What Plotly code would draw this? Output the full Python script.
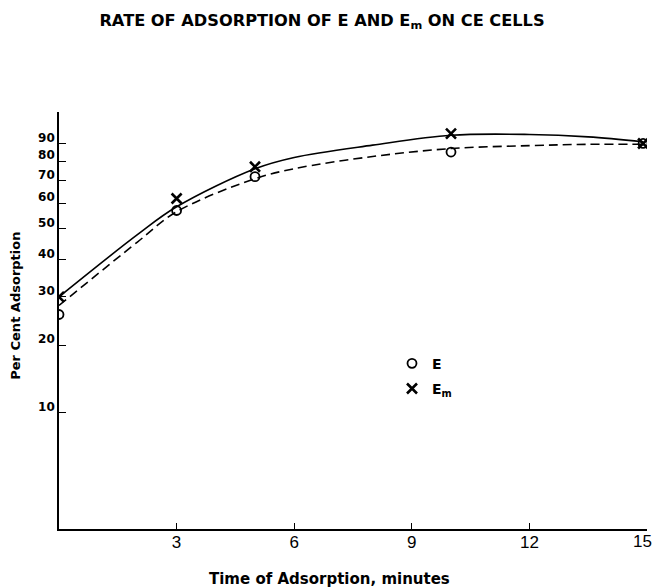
import math
import plotly.graph_objects as go

# ---- data ----
time_E = [0, 3, 5, 10, 14.9]
pct_E = [26, 57, 72, 85, 90]

time_Em = [0, 3, 5, 10, 14.9]
pct_Em = [30, 62, 77, 96, 90]

# hand-drawn fitted curves
curve_time = [0, 2, 3, 5, 6, 8, 10, 12, 13.5, 14.9]
curve_E = [28, 45.5, 56.5, 71, 76, 82.5, 87, 88.7, 89.5, 89.5]
curve_Em = [30, 48, 58.5, 76, 82, 89, 95, 95.5, 94, 91]

y_tick_values = [10, 20, 30, 40, 50, 60, 70, 80, 90]
y_tick_labels = ["10", "20", "30", "40", "50", "60", "70", "80", "90"]
x_tick_values = [3, 6, 9, 12, 15]
x_tick_labels = ["3", "6", "9", "12", "15"]

# the per-cent axis of the original is logarithmic in (per cent + 10)
OFFSET = 10


def shift(vals):
    return [v + OFFSET for v in vals]


BOLD = "DejaVu Sans, Lato, sans-serif"
NARROW = "Liberation Sans Narrow, Liberation Sans, sans-serif"

fig = go.Figure()

fig.add_trace(go.Scatter(
    x=curve_time, y=shift(curve_E), mode="lines", line_shape="spline",
    line=dict(color="black", width=1.6, dash="9px,5px"),
    showlegend=False, hoverinfo="skip"))
fig.add_trace(go.Scatter(
    x=curve_time, y=shift(curve_Em), mode="lines", line_shape="spline",
    line=dict(color="black", width=1.6),
    showlegend=False, hoverinfo="skip"))

fig.add_trace(go.Scatter(
    x=time_E, y=shift(pct_E), mode="markers", name="E", legendgroup="E",
    marker=dict(symbol="circle-open", size=9, color="black",
                line=dict(width=1.8, color="black")),
    customdata=pct_E, hovertemplate="%{x} min: %{customdata}%<extra>E</extra>"))
fig.add_trace(go.Scatter(
    x=time_Em, y=shift(pct_Em), mode="markers", name="E<sub>m</sub>",
    legendgroup="Em",
    marker=dict(symbol="x-thin", size=10, color="black",
                line=dict(width=2.6, color="black")),
    customdata=pct_Em, hovertemplate="%{x} min: %{customdata}%<extra>Em</extra>"))

L = 59
R = 647
T = 112
B = 529.5
W, H = 653, 588
pw, ph = R - L, B - T

fig.update_layout(
    width=W, height=H,
    margin=dict(l=L, r=W - R, t=T, b=H - B, pad=0, autoexpand=False),
    paper_bgcolor="white", plot_bgcolor="white",
    font=dict(family=BOLD, color="black"),
    title=dict(text="<b>RATE OF ADSORPTION OF E AND E<sub>m</sub> ON CE CELLS</b>",
               x=322 / W, xref="container", xanchor="center",
               y=1 - 20 / H, yref="container", yanchor="middle",
               font=dict(size=16.2, family=BOLD)),
    showlegend=True,
    legend=dict(x=(392 - L) / pw, y=(B - 348) / ph, xanchor="left", yanchor="top",
                bgcolor="rgba(0,0,0,0)", borderwidth=0,
                traceorder="grouped", tracegroupgap=4,
                font=dict(size=14, family=BOLD, weight="bold")),
)

# the last x label sits just inside the page edge in the original,
# so it is drawn as an annotation at its tick
axis_ticktext = x_tick_labels[:-1] + [""]

fig.update_xaxes(
    range=[0, 15], showgrid=False, zeroline=False, automargin=False,
    showline=True, linecolor="black", linewidth=1.6,
    ticks="inside", ticklen=6, tickwidth=1.4, tickcolor="black",
    tickvals=x_tick_values, ticktext=axis_ticktext,
    ticklabelstandoff=-3,
    tickfont=dict(size=17, family=NARROW),
)
fig.update_yaxes(
    type="log", range=[math.log10(0 + OFFSET), 2.0816],
    showgrid=False, zeroline=False, automargin=False,
    showline=True, linecolor="black", linewidth=1.6,
    ticks="inside", ticklen=7, tickwidth=1.4, tickcolor="black",
    tickvals=shift(y_tick_values), ticktext=y_tick_labels,
    ticklabelposition="outside top", ticklabelshift=3,
    ticklabeloverflow="allow",
    tickfont=dict(size=12, family=BOLD, weight="bold"),
)

fig.add_annotation(text=x_tick_labels[-1], xref="x", yref="paper",
                   x=x_tick_values[-1], y=(B - 542) / ph, xshift=-5,
                   xanchor="center", yanchor="middle", showarrow=False,
                   font=dict(size=17, family=NARROW))

fig.add_annotation(text="<b>Per Cent Adsorption</b>", textangle=-90,
                   xref="paper", yref="paper", x=(16 - L) / pw, y=(B - 306) / ph,
                   xanchor="center", yanchor="middle", showarrow=False,
                   font=dict(size=13))
fig.add_annotation(text="<b>Time of Adsorption, minutes</b>",
                   xref="paper", yref="paper", x=(329 - L) / pw, y=(B - 580) / ph,
                   xanchor="center", yanchor="middle", showarrow=False,
                   font=dict(size=15))

fig.write_html("out.html", config={"displayModeBar": False},
               post_script="document.body.style.margin='0';document.body.style.overflow='hidden';")
